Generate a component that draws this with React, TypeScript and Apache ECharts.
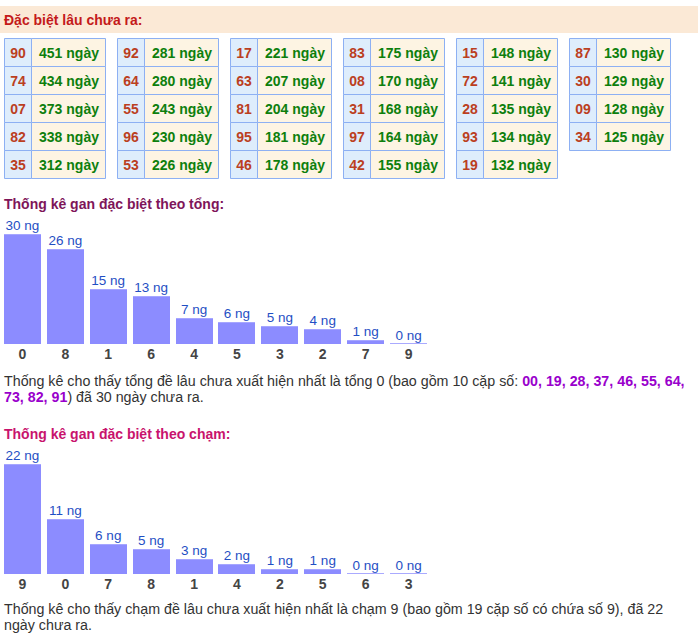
import React, { useEffect, useRef } from "react";
import * as echarts from "echarts";

const headerTitle = "Đặc biệt lâu chưa ra:";
const tableNums: string[][] = [
  ["90", "74", "07", "82", "35"],
  ["92", "64", "55", "96", "53"],
  ["17", "63", "81", "95", "46"],
  ["83", "08", "31", "97", "42"],
  ["15", "72", "28", "93", "19"],
  ["87", "30", "09", "34"],
];
const tableDays: number[][] = [
  [451, 434, 373, 338, 312],
  [281, 280, 243, 230, 226],
  [221, 207, 204, 181, 178],
  [175, 170, 168, 164, 155],
  [148, 141, 135, 134, 132],
  [130, 129, 128, 125],
];

const tongTitle = "Thống kê gan đặc biệt theo tổng:";
const tongCats = ["0", "8", "1", "6", "4", "5", "3", "2", "7", "9"];
const tongVals = [30, 26, 15, 13, 7, 6, 5, 4, 1, 0];
const tongTextA = "Thống kê cho thấy tổng đề lâu chưa xuất hiện nhất là tổng 0 (bao gồm 10 cặp số: ";
const tongPairs1 = "00, 19, 28, 37, 46, 55, 64,";
const tongPairs2 = "73, 82, 91";
const tongTextB = ") đã 30 ngày chưa ra.";

const chamTitle = "Thống kê gan đặc biệt theo chạm:";
const chamCats = ["9", "0", "7", "8", "1", "4", "2", "5", "6", "3"];
const chamVals = [22, 11, 6, 5, 3, 2, 1, 1, 0, 0];
const chamText1 = "Thống kê cho thấy chạm đề lâu chưa xuất hiện nhất là chạm 9 (bao gồm 19 cặp số có chứa số 9), đã 22";
const chamText2 = "ngày chưa ra.";

const FONT = "Arial, 'Liberation Sans', sans-serif";

function barRender(params: any, api: any) {
  const v = api.value(1);
  const top = api.coord([api.value(0), v]);
  const base = api.coord([api.value(0), 0]);
  const w = 37;
  const x = Math.round(top[0] - w / 2);
  const yTop = Math.round(top[1]);
  const yBase = Math.round(base[1]);
  const children: any[] = [];
  if (yBase - yTop > 0) {
    children.push({
      type: "rect",
      shape: { x, y: yTop, width: w, height: yBase - yTop },
      style: { fill: "#8c8cff" },
    });
  }
  children.push({
    type: "rect",
    shape: { x, y: Math.min(yTop, yBase - 1), width: w, height: 1 },
    style: { fill: v === 0 ? "#aaaaff" : "#a6a6ff" },
  });
  children.push({
    type: "text",
    style: {
      text: v + " ng",
      x: top[0],
      y: yTop - 2,
      align: "center",
      verticalAlign: "bottom",
      fill: "#1f4fc4",
      font: `13.5px ${FONT}`,
    },
  });
  return { type: "group", children };
}

export default function App() {
  const ref = useRef<HTMLDivElement>(null);
  useEffect(() => {
    if (!ref.current) return;
    const chart = echarts.init(ref.current, null, { renderer: "svg" });
    const graphics: any[] = [];
    graphics.push({
      type: "rect",
      shape: { x: 0, y: 6, width: 698, height: 27 },
      style: { fill: "#fbe9d6" },
      silent: true,
    });
    graphics.push({
      type: "text",
      style: {
        text: headerTitle,
        x: 4,
        y: 20,
        verticalAlign: "middle",
        fill: "#c41a1a",
        font: `bold 14px ${FONT}`,
      },
    });
    const tableX = [4, 117, 230, 343, 456, 569];
    const rowH = 28;
    const top0 = 38;
    tableNums.forEach((col, ci) => {
      const x0 = tableX[ci];
      col.forEach((num, ri) => {
        const y = top0 + ri * rowH;
        graphics.push({
          type: "rect",
          shape: { x: x0 + 0.5, y: y + 0.5, width: 27, height: rowH },
          style: { fill: "#deedfc", stroke: "#8db0f3", lineWidth: 1 },
        });
        graphics.push({
          type: "rect",
          shape: { x: x0 + 27.5, y: y + 0.5, width: 74, height: rowH },
          style: { fill: "#fdf4e3", stroke: "#8db0f3", lineWidth: 1 },
        });
        graphics.push({
          type: "text",
          style: {
            text: num,
            x: x0 + 14,
            y: y + 15,
            align: "center",
            verticalAlign: "middle",
            fill: "#bb3f1f",
            font: `bold 14px ${FONT}`,
          },
        });
        graphics.push({
          type: "text",
          style: {
            text: tableDays[ci][ri] + " ngày",
            x: x0 + 65,
            y: y + 15,
            align: "center",
            verticalAlign: "middle",
            fill: "#0d7f0d",
            font: `bold 14px ${FONT}`,
          },
        });
      });
    });
    graphics.push({
      type: "text",
      style: { text: tongTitle, x: 4, y: 204, verticalAlign: "middle", fill: "#7e1559", font: `bold 14px ${FONT}` },
    });
    const rich = {
      n: { fill: "#333333", fontSize: 14.25, fontFamily: FONT, lineHeight: 16 },
      b: { fill: "#9900cc", fontSize: 14.25, fontFamily: FONT, fontWeight: "bold", lineHeight: 16 },
    };
    graphics.push({
      type: "text",
      style: {
        text: `{n|${tongTextA}}{b|${tongPairs1}}\n{b|${tongPairs2}}{n|${tongTextB}}`,
        x: 4,
        y: 373,
        verticalAlign: "top",
        rich,
      },
    });
    graphics.push({
      type: "text",
      style: { text: chamTitle, x: 4, y: 434, verticalAlign: "middle", fill: "#c8136d", font: `bold 14px ${FONT}` },
    });
    graphics.push({
      type: "text",
      style: {
        text: `{n|${chamText1}}\n{n|${chamText2}}`,
        x: 4,
        y: 601,
        verticalAlign: "top",
        rich,
      },
    });

    const xAxisCommon = {
      type: "category" as const,
      axisLine: { show: false },
      axisTick: { show: false },
      splitLine: { show: false },
      axisLabel: { color: "#444444", fontWeight: "bold" as const, fontSize: 14, fontFamily: FONT, margin: 3 },
    };
    const yAxisCommon = {
      type: "value" as const,
      min: 0,
      max: "dataMax" as const,
      show: false,
      splitLine: { show: false },
    };
    chart.setOption({
      animation: false,
      grid: [
        { left: 1, width: 429, top: 234, height: 110 },
        { left: 1, width: 429, top: 464, height: 110 },
      ],
      xAxis: [
        { ...xAxisCommon, gridIndex: 0, data: tongCats },
        { ...xAxisCommon, gridIndex: 1, data: chamCats },
      ],
      yAxis: [
        { ...yAxisCommon, gridIndex: 0 },
        { ...yAxisCommon, gridIndex: 1 },
      ],
      series: [
        {
          type: "custom",
          xAxisIndex: 0,
          yAxisIndex: 0,
          renderItem: barRender,
          encode: { x: 0, y: 1 },
          data: tongVals.map((v, i) => [i, v]),
        },
        {
          type: "custom",
          xAxisIndex: 1,
          yAxisIndex: 1,
          renderItem: barRender,
          encode: { x: 0, y: 1 },
          data: chamVals.map((v, i) => [i, v]),
        },
      ],
      graphic: graphics,
    });
    return () => chart.dispose();
  }, []);
  return (
    <div
      ref={ref}
      style={{ position: "fixed", left: 0, top: 0, width: 698, height: 641, background: "#ffffff" }}
    />
  );
}
